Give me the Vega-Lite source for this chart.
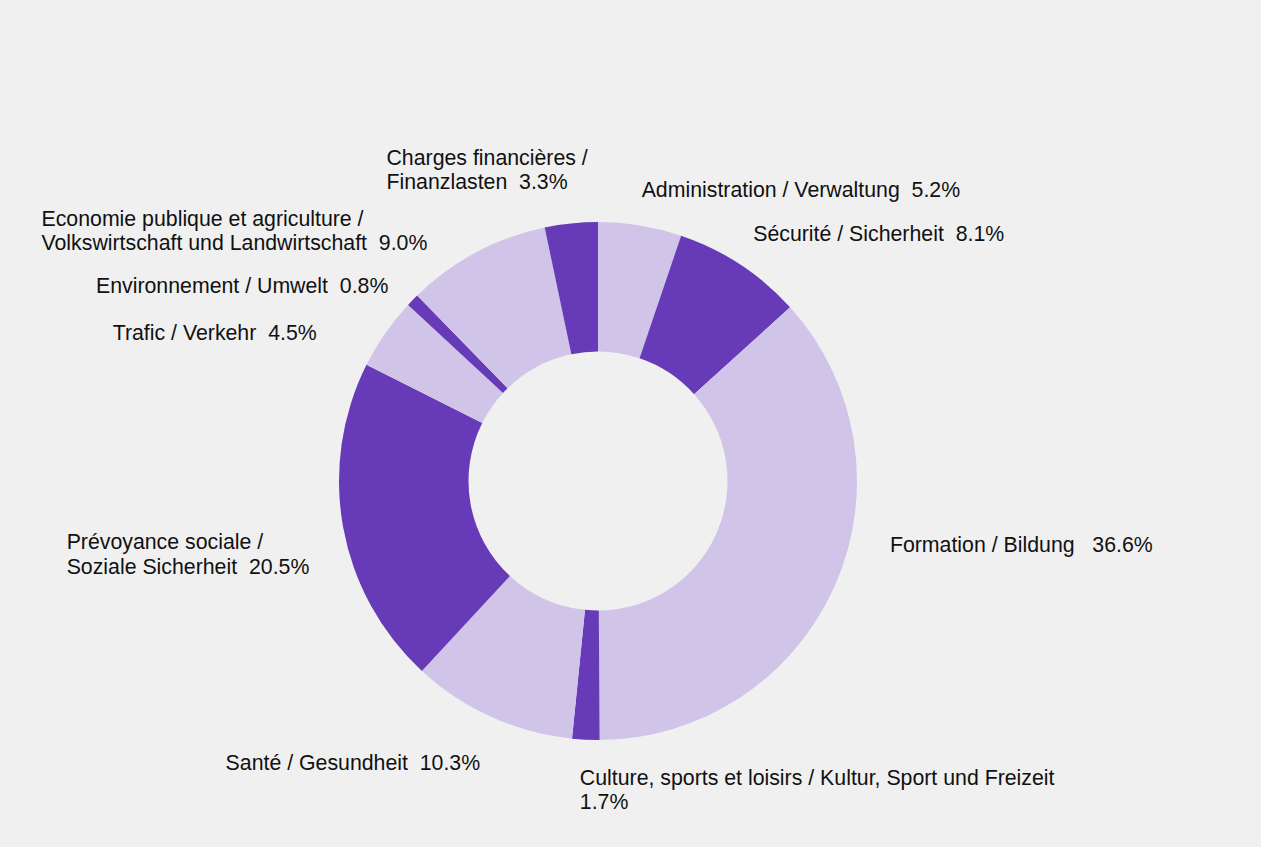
{
  "$schema": "https://vega.github.io/schema/vega-lite/v6.json",
  "autosize": {"type": "none"},
  "width": 1100,
  "height": 700,
  "padding": {"left": 48, "top": 131, "right": 113, "bottom": 16},
  "background": "#f0f0f0",
  "config": {
    "view": {"stroke": null},
    "text": {"font": "Liberation Sans", "fontSize": 21.3, "color": "#111111", "lineBreak": "\n", "lineHeight": 24.5, "baseline": "middle"}
  },
  "data": {
    "values": [
      {"category": "Administration / Verwaltung", "share": 5.2, "label": "Administration / Verwaltung \u00a05.2%"},
      {"category": "Sécurité / Sicherheit", "share": 8.1, "label": "Sécurité / Sicherheit \u00a08.1%"},
      {"category": "Formation / Bildung", "share": 36.6, "label": "Formation / Bildung \u00a0\u00a036.6%"},
      {"category": "Culture, sports et loisirs / Kultur, Sport und Freizeit", "share": 1.7, "label": "Culture, sports et loisirs / Kultur, Sport und Freizeit\n1.7%"},
      {"category": "Santé / Gesundheit", "share": 10.3, "label": "Santé / Gesundheit \u00a010.3%"},
      {"category": "Prévoyance sociale / Soziale Sicherheit", "share": 20.5, "label": "Prévoyance sociale /\nSoziale Sicherheit \u00a020.5%"},
      {"category": "Trafic / Verkehr", "share": 4.5, "label": "Trafic / Verkehr \u00a04.5%"},
      {"category": "Environnement / Umwelt", "share": 0.8, "label": "Environnement / Umwelt \u00a00.8%"},
      {"category": "Economie publique et agriculture / Volkswirtschaft und Landwirtschaft", "share": 9.0, "label": "Economie publique et agriculture /\nVolkswirtschaft und Landwirtschaft \u00a09.0%"},
      {"category": "Charges financières / Finanzlasten", "share": 3.3, "label": "Charges financières /\nFinanzlasten \u00a03.3%"}
    ]
  },
  "transform": [
    {"stack": "share", "groupby": [], "as": ["start", "end"]},
    {"calculate": "(datum.start + datum.end) / 2", "as": "mid"}
  ],
  "layer": [
    {
      "mark": {"type": "arc", "outerRadius": 259, "innerRadius": 129.5},
      "encoding": {
        "theta": {"field": "start", "type": "quantitative", "scale": {"domain": [0, 100]}, "stack": null},
        "theta2": {"field": "end"},
        "color": {
          "field": "category",
          "type": "nominal",
          "legend": null,
          "sort": null,
          "scale": {
            "domain": [
              "Administration / Verwaltung",
              "Sécurité / Sicherheit",
              "Formation / Bildung",
              "Culture, sports et loisirs / Kultur, Sport und Freizeit",
              "Santé / Gesundheit",
              "Prévoyance sociale / Soziale Sicherheit",
              "Trafic / Verkehr",
              "Environnement / Umwelt",
              "Economie publique et agriculture / Volkswirtschaft und Landwirtschaft",
              "Charges financières / Finanzlasten"
            ],
            "range": ["#d1c4e9", "#673ab7", "#d1c4e9", "#673ab7", "#d1c4e9", "#673ab7", "#d1c4e9", "#673ab7", "#d1c4e9", "#673ab7"]
          }
        }
      }
    },
    {
      "transform": [{"filter": "datum.category === 'Administration / Verwaltung'"}],
      "mark": {"type": "text", "radius": 290, "align": "left", "dx": -3.5, "dy": -3.5},
      "encoding": {"theta": {"field": "mid", "type": "quantitative", "scale": {"domain": [0, 100]}, "stack": null}, "text": {"field": "label"}}
    },
    {
      "transform": [{"filter": "datum.category === 'Sécurité / Sicherheit'"}],
      "mark": {"type": "text", "radius": 290, "align": "left", "dx": -4, "dy": -3.5},
      "encoding": {"theta": {"field": "mid", "type": "quantitative", "scale": {"domain": [0, 100]}, "stack": null}, "text": {"field": "label"}}
    },
    {
      "transform": [{"filter": "datum.category === 'Formation / Bildung'"}],
      "mark": {"type": "text", "radius": 290, "align": "left", "dx": 26.5, "dy": -51.5},
      "encoding": {"theta": {"field": "mid", "type": "quantitative", "scale": {"domain": [0, 100]}, "stack": null}, "text": {"field": "label"}}
    },
    {
      "transform": [{"filter": "datum.category === 'Culture, sports et loisirs / Kultur, Sport und Freizeit'"}],
      "mark": {"type": "text", "radius": 290, "align": "left", "dx": -4.5, "dy": 8},
      "encoding": {"theta": {"field": "mid", "type": "quantitative", "scale": {"domain": [0, 100]}, "stack": null}, "text": {"field": "label"}}
    },
    {
      "transform": [{"filter": "datum.category === 'Santé / Gesundheit'"}],
      "mark": {"type": "text", "radius": 290, "align": "right", "dx": 1.5, "dy": 18.5},
      "encoding": {"theta": {"field": "mid", "type": "quantitative", "scale": {"domain": [0, 100]}, "stack": null}, "text": {"field": "label"}}
    },
    {
      "transform": [{"filter": "datum.category === 'Prévoyance sociale / Soziale Sicherheit'"}],
      "mark": {"type": "text", "radius": 290, "align": "left", "dx": -246, "dy": 10.5},
      "encoding": {"theta": {"field": "mid", "type": "quantitative", "scale": {"domain": [0, 100]}, "stack": null}, "text": {"field": "label"}}
    },
    {
      "transform": [{"filter": "datum.category === 'Trafic / Verkehr'"}],
      "mark": {"type": "text", "radius": 290, "align": "right", "dx": -43, "dy": 18.5},
      "encoding": {"theta": {"field": "mid", "type": "quantitative", "scale": {"domain": [0, 100]}, "stack": null}, "text": {"field": "label"}}
    },
    {
      "transform": [{"filter": "datum.category === 'Environnement / Umwelt'"}],
      "mark": {"type": "text", "radius": 290, "align": "right", "dx": -2, "dy": 8.5},
      "encoding": {"theta": {"field": "mid", "type": "quantitative", "scale": {"domain": [0, 100]}, "stack": null}, "text": {"field": "label"}}
    },
    {
      "transform": [{"filter": "datum.category === 'Economie publique et agriculture / Volkswirtschaft und Landwirtschaft'"}],
      "mark": {"type": "text", "radius": 290, "align": "left", "dx": -420, "dy": -5.5},
      "encoding": {"theta": {"field": "mid", "type": "quantitative", "scale": {"domain": [0, 100]}, "stack": null}, "text": {"field": "label"}}
    },
    {
      "transform": [{"filter": "datum.category === 'Charges financières / Finanzlasten'"}],
      "mark": {"type": "text", "radius": 290, "align": "left", "dx": -181.5, "dy": -34},
      "encoding": {"theta": {"field": "mid", "type": "quantitative", "scale": {"domain": [0, 100]}, "stack": null}, "text": {"field": "label"}}
    }
  ]
}
